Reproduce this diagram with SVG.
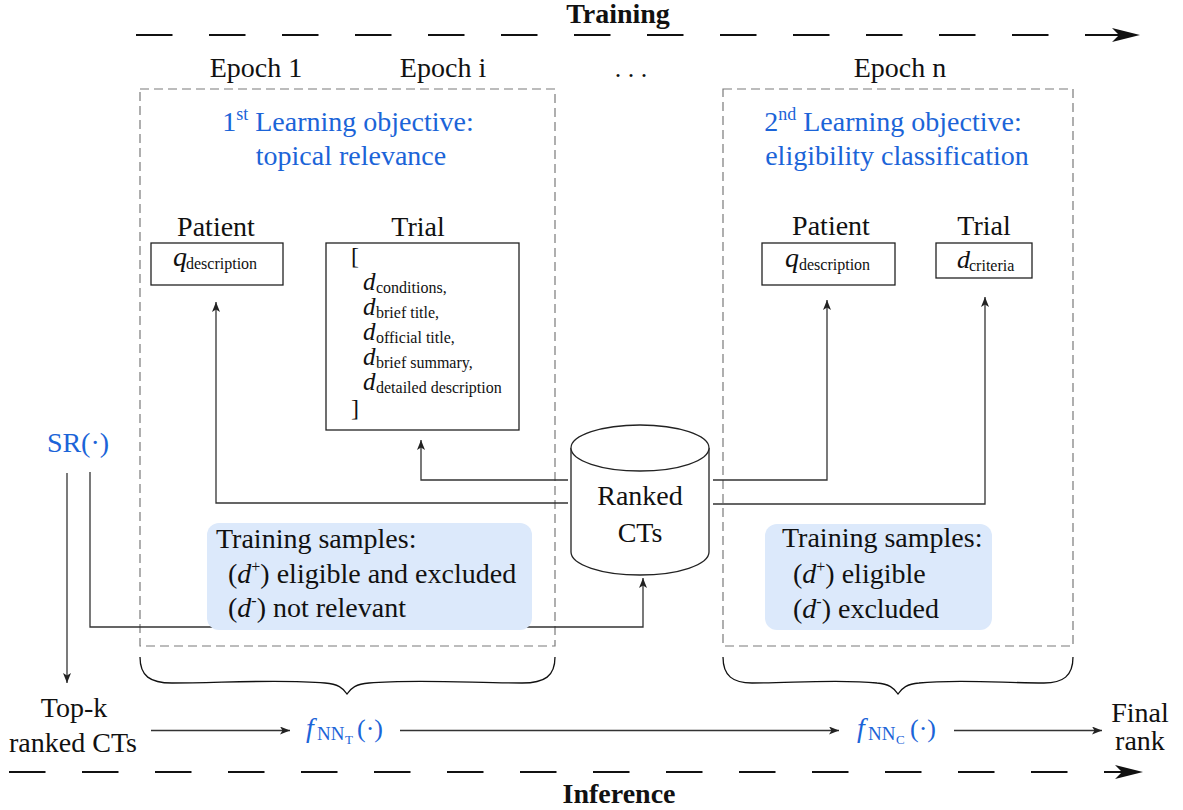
<svg xmlns="http://www.w3.org/2000/svg" width="1183" height="810" viewBox="0 0 1183 810" font-family="'Liberation Serif', 'DejaVu Serif', serif">
  <defs>
    <marker id="arr" markerUnits="userSpaceOnUse" markerWidth="12" markerHeight="10" refX="10" refY="4" orient="auto">
      <path d="M0,0 L10,4 L0,8 L2.5,4 z" fill="#222"/>
    </marker>
    <style>
      text { font-family: 'Liberation Serif', 'DejaVu Serif', serif; fill: #111; }
      .t28 { font-size: 28px; }
      .bold { font-weight: bold; }
      .blue { fill: #1b64d8; }
      .it { font-style: italic; }
      .sub { font-size: 16px; }
      .frame { fill: none; stroke: #7a7a7a; stroke-width: 1.2; stroke-dasharray: 9 5; }
      .box { fill: #fff; stroke: #222; stroke-width: 1.3; }
      .conn { fill: none; stroke: #333; stroke-width: 1.3; }
      .bigdash { fill: none; stroke: #111; stroke-width: 2.2; stroke-dasharray: 36.5 36.5; }
      .brace { fill: none; stroke: #111; stroke-width: 1.3; }
      .samples { fill: #dce9fb; stroke: none; }
    </style>
  </defs>

  <!-- timeline arrows -->
  <g id="timeline">
    <text class="t28 bold" x="618" y="23" text-anchor="middle">Training</text>
    <path class="bigdash" d="M136,35 H1122"/>
    <path d="M1140,35 L1112,28 L1119,35 L1112,42 z" fill="#111"/>
    <path class="bigdash" d="M9,772 H1125"/>
    <path d="M1143,772 L1115,765 L1122,772 L1115,779 z" fill="#111"/>
    <text class="t28 bold" x="619" y="803" text-anchor="middle">Inference</text>
  </g>

  <!-- epoch labels -->
  <g id="epochs">
    <text class="t28" x="256" y="77" text-anchor="middle">Epoch 1</text>
    <text class="t28" x="443" y="77" text-anchor="middle">Epoch i</text>
    <text x="631" y="77" text-anchor="middle" font-size="26">. . .</text>
    <text class="t28" x="900" y="77" text-anchor="middle">Epoch n</text>
  </g>

  <!-- epoch frames -->
  <g id="frame-topical">
    <rect class="frame" x="140" y="89" width="415" height="557"/>
    <text class="t28 blue" x="348" y="131" text-anchor="middle">1<tspan font-size="18" dy="-11">st</tspan><tspan dy="11"> Learning objective:</tspan></text>
    <text class="t28 blue" x="351" y="165" text-anchor="middle">topical relevance</text>
  </g>
  <g id="frame-eligibility">
    <rect class="frame" x="723" y="89" width="350" height="557"/>
    <text class="t28 blue" x="893" y="131" text-anchor="middle">2<tspan font-size="18" dy="-11">nd</tspan><tspan dy="11"> Learning objective:</tspan></text>
    <text class="t28 blue" x="897" y="165" text-anchor="middle">eligibility classification</text>
  </g>

  <!-- connectors -->
  <g id="connectors">
    <path class="conn" d="M568,480 H421 V440" marker-end="url(#arr)"/>
    <path class="conn" d="M568,503 H216 V302" marker-end="url(#arr)"/>
    <path class="conn" d="M713,480 H827 V300" marker-end="url(#arr)"/>
    <path class="conn" d="M713,504 H985 V297" marker-end="url(#arr)"/>
    <path class="conn" d="M90,472 V627 H643 V578" marker-end="url(#arr)"/>
    <path class="conn" d="M67,473 V683" marker-end="url(#arr)"/>
    <path class="conn" d="M151,730.5 H290" marker-end="url(#arr)"/>
    <path class="conn" d="M400,730.5 H839" marker-end="url(#arr)"/>
    <path class="conn" d="M954,730.5 H1102" marker-end="url(#arr)"/>
  </g>

  <!-- first objective inputs -->
  <g id="patient-topical">
    <text class="t28" x="216" y="236" text-anchor="middle">Patient</text>
    <rect class="box" x="151" y="243" width="132" height="42"/>
    <text x="173" y="266" font-size="28" class="it">q</text>
    <text x="186" y="269" class="sub">description</text>
  </g>
  <g id="trial-topical">
    <text class="t28" x="418" y="236" text-anchor="middle">Trial</text>
    <rect class="box" x="326" y="243" width="193" height="187"/>
    <text x="351" y="264" font-size="24">[</text>
    <text x="363" y="290" font-size="25" class="it">d</text>
    <text x="376" y="293" class="sub">conditions,</text>
    <text x="363" y="315" font-size="25" class="it">d</text>
    <text x="376" y="318" class="sub">brief title,</text>
    <text x="363" y="340" font-size="25" class="it">d</text>
    <text x="376" y="343" class="sub">official title,</text>
    <text x="363" y="365" font-size="25" class="it">d</text>
    <text x="376" y="368" class="sub">brief summary,</text>
    <text x="363" y="390" font-size="25" class="it">d</text>
    <text x="376" y="393" class="sub">detailed description</text>
    <text x="351" y="416" font-size="24">]</text>
  </g>

  <!-- second objective inputs -->
  <g id="patient-eligibility">
    <text class="t28" x="831" y="235" text-anchor="middle">Patient</text>
    <rect class="box" x="762" y="243" width="133" height="42"/>
    <text x="785" y="267" font-size="28" class="it">q</text>
    <text x="799" y="270" class="sub">description</text>
  </g>
  <g id="trial-eligibility">
    <text class="t28" x="984" y="235" text-anchor="middle">Trial</text>
    <rect class="box" x="936" y="243" width="96" height="35"/>
    <text x="957" y="268" font-size="26" class="it">d</text>
    <text x="969" y="271" class="sub">criteria</text>
  </g>

  <!-- training sample sets -->
  <g id="samples-topical">
    <rect class="samples" x="207" y="523" width="325" height="107" rx="12"/>
    <text class="t28" x="216" y="548">Training samples:</text>
    <text class="t28" x="228" y="583">(<tspan class="it">d</tspan><tspan font-size="16" dy="-11">+</tspan><tspan dy="11">) eligible and excluded</tspan></text>
    <text class="t28" x="228" y="617">(<tspan class="it">d</tspan><tspan font-size="16" dy="-11">-</tspan><tspan dy="11">) not relevant</tspan></text>
  </g>
  <g id="samples-eligibility">
    <rect class="samples" x="765" y="524" width="227" height="106" rx="12"/>
    <text class="t28" x="782" y="547">Training samples:</text>
    <text class="t28" x="793" y="583">(<tspan class="it">d</tspan><tspan font-size="16" dy="-11">+</tspan><tspan dy="11">) eligible</tspan></text>
    <text class="t28" x="793" y="618">(<tspan class="it">d</tspan><tspan font-size="16" dy="-11">-</tspan><tspan dy="11">) excluded</tspan></text>
  </g>

  <!-- ranked trial store -->
  <g id="ranked-cts">
    <path d="M571,448 V552 A69,23 0 0 0 709,552 V448" fill="#fff" stroke="#222" stroke-width="1.3"/>
    <ellipse cx="640" cy="448" rx="69" ry="23" fill="#fff" stroke="#222" stroke-width="1.3"/>
    <text class="t28" x="640" y="505" text-anchor="middle">Ranked</text>
    <text class="t28" x="640" y="542" text-anchor="middle">CTs</text>
  </g>

  <!-- first-stage retriever -->
  <g id="sr">
    <text class="t28 blue" x="78" y="452" text-anchor="middle">SR(·)</text>
  </g>

  <!-- braces grouping epochs into models -->
  <g id="braces">
    <path class="brace" d="M140,657 C140,676 150,683 172,683 C220,683 280,679 325,683 C338,684 343,688 347,694 C351,688 356,684 369,683 C414,679 474,683 522,683 C545,683 555,676 555,657"/>
    <path class="brace" d="M723,657 C723,676 733,683 752,683 C792,683 840,679 877,683 C889,684 894,688 898,694 C902,688 907,684 919,683 C956,679 1004,683 1044,683 C1063,683 1073,676 1073,657"/>
  </g>

  <!-- inference pipeline -->
  <g id="topk">
    <text class="t28" x="74" y="717" text-anchor="middle">Top-k</text>
    <text class="t28" x="73" y="752" text-anchor="middle">ranked CTs</text>
  </g>
  <g id="f-topical">
    <text x="306" y="737" font-size="28" class="it blue">f</text>
    <text x="317" y="740" font-size="19" class="blue">NN</text>
    <text x="345" y="744" font-size="13" class="blue">T</text>
    <text x="357" y="737" font-size="26" class="blue">(·)</text>
  </g>
  <g id="f-eligibility">
    <text x="857" y="737" font-size="28" class="it blue">f</text>
    <text x="868" y="740" font-size="19" class="blue">NN</text>
    <text x="896" y="744" font-size="13" class="blue">C</text>
    <text x="910" y="737" font-size="26" class="blue">(·)</text>
  </g>
  <g id="final">
    <text class="t28" x="1140" y="722" text-anchor="middle">Final</text>
    <text class="t28" x="1140" y="750" text-anchor="middle">rank</text>
  </g>
</svg>
